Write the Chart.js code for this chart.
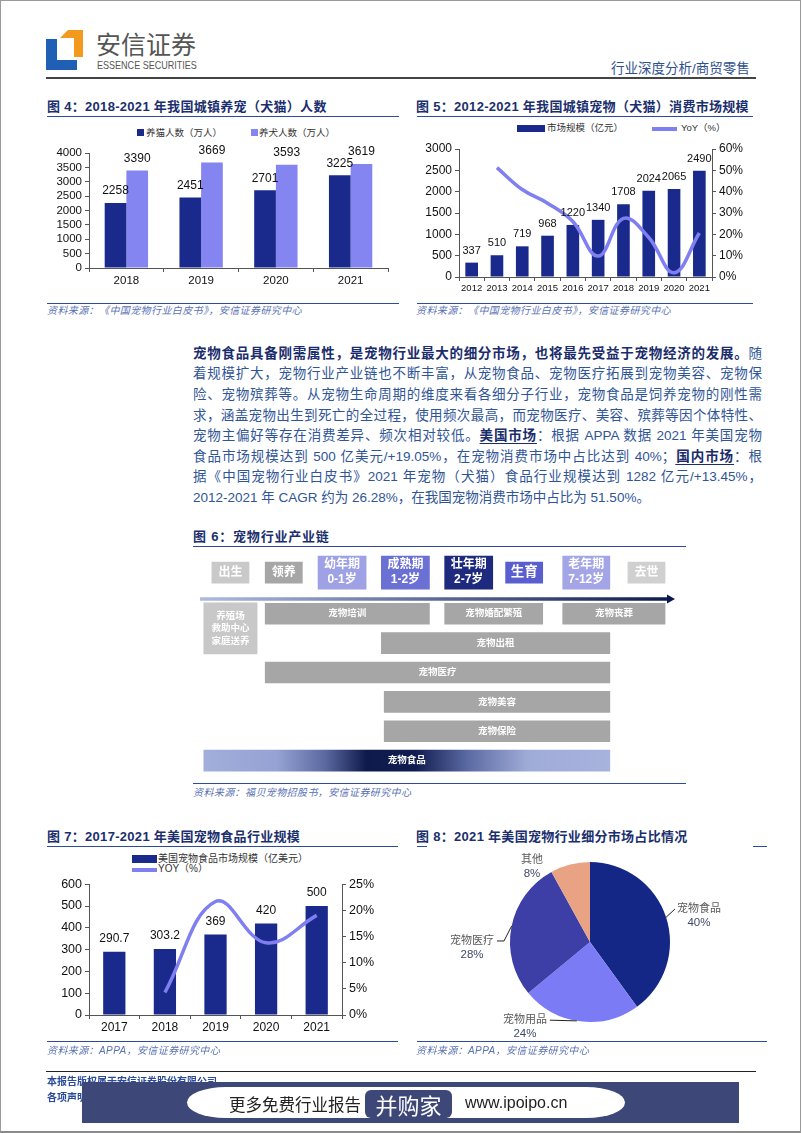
<!DOCTYPE html>
<html>
<head>
<meta charset="utf-8">
<script src="https://cdn.jsdelivr.net/npm/chart.js@4.4.1/dist/chart.umd.min.js"></script>
<style>
  body { margin: 0; width: 802px; height: 1133px; position: relative; background: #fff; overflow: hidden;
         font-family: "Liberation Sans", "Noto Sans CJK SC", sans-serif; }
  .abs { position: absolute; }
  .frame { left: 0; top: 0; width: 799px; height: 1130px; border: 1px solid #9a9a9a; border-bottom: 2px solid #8a8a8a; }
  .title { font-size: 13px; font-weight: bold; color: #1b2f6e; letter-spacing: 0.3px; white-space: nowrap; line-height: 16px; }
  .rule { height: 0; border-top: 1.5px solid #2d4a9b; }
  .src { font-size: 10px; font-style: italic; color: #5a72b5; letter-spacing: 0.4px; white-space: nowrap; line-height: 14px; }
  .leg { font-size: 9.5px; color: #333; white-space: nowrap; line-height: 12px; }
  .sw { position: absolute; }
  .para div { position: absolute; left: 193px; width: 569px; font-size: 13.5px; line-height: 20.6px; height: 20.6px;
              color: #2f5597; text-align: justify; text-align-last: justify; }
  .para b { color: #1a2c6b; }
  .para u { color: #1a2c6b; font-weight: bold; text-underline-offset: 3px; }
  canvas { position: absolute; }
</style>
</head>
<body>
<div class="abs frame"></div>

<!-- header -->
<svg class="abs" style="left:0;top:0" width="120" height="80">
  <polygon points="46,39 57,39 57,60 77,60 77,70 46,70" fill="#1f5fb4"/>
  <polygon points="60,38 68,30 83,30 83,57 74,57 74,38" fill="#f39a1e"/>
</svg>
<div class="abs" style="left:96px;top:28px;font-size:25px;color:#555;font-family:'Noto Sans CJK SC';line-height:30px;">安信证券</div>
<div class="abs" style="left:97px;top:59px;font-size:10.5px;color:#555;line-height:12px;transform:scaleX(0.86);transform-origin:left;white-space:nowrap;">ESSENCE SECURITIES</div>
<div class="abs" style="left:611px;top:61px;font-size:13.5px;color:#2f4f8f;line-height:16px;white-space:nowrap;">行业深度分析/商贸零售</div>
<div class="abs" style="left:46px;top:77px;width:710px;height:0;border-top:2px solid #444;"></div>

<!-- figure 4 -->
<div class="abs title" style="left:47px;top:99px;">图 4：2018-2021 年我国城镇养宠（犬猫）人数</div>
<div class="abs rule" style="left:47px;top:116px;width:352px;"></div>
<div class="sw" style="left:137px;top:129px;width:7px;height:7px;background:#1a2a8c;"></div>
<div class="abs leg" style="left:146px;top:127px;">养猫人数（万人）</div>
<div class="sw" style="left:251px;top:129px;width:7px;height:7px;background:#8585f2;"></div>
<div class="abs leg" style="left:259px;top:127px;">养犬人数（万人）</div>
<canvas id="c4" width="353" height="160" style="left:47px;top:135px;width:353px;height:160px;"></canvas>
<div class="abs rule" style="left:47px;top:303px;width:352px;"></div>
<div class="abs src" style="left:47px;top:304px;">资料来源：《中国宠物行业白皮书》，安信证券研究中心</div>

<!-- figure 5 -->
<div class="abs title" style="left:416px;top:99px;">图 5：2012-2021 年我国城镇宠物（犬猫）消费市场规模</div>
<div class="abs rule" style="left:417px;top:116px;width:336px;"></div>
<div class="sw" style="left:517px;top:125px;width:28px;height:7px;background:#1a2a8c;"></div>
<div class="abs leg" style="left:547px;top:122px;">市场规模（亿元）</div>
<div class="sw" style="left:652px;top:127px;width:25px;height:3.5px;background:#7f7ff2;"></div>
<div class="abs leg" style="left:681px;top:122px;">YoY（%）</div>
<canvas id="c5" width="336" height="157" style="left:416px;top:140px;width:336px;height:157px;"></canvas>
<div class="abs rule" style="left:417px;top:303px;width:336px;"></div>
<div class="abs src" style="left:416px;top:304px;">资料来源：《中国宠物行业白皮书》，安信证券研究中心</div>

<!-- paragraph -->
<div class="para">
  <div style="top:343.7px;"><b>宠物食品具备刚需属性，是宠物行业最大的细分市场，也将最先受益于宠物经济的发展。</b>随</div>
  <div style="top:364.3px;">着规模扩大，宠物行业产业链也不断丰富，从宠物食品、宠物医疗拓展到宠物美容、宠物保</div>
  <div style="top:384.9px;">险、宠物殡葬等。从宠物生命周期的维度来看各细分子行业，宠物食品是饲养宠物的刚性需</div>
  <div style="top:405.5px;">求，涵盖宠物出生到死亡的全过程，使用频次最高，而宠物医疗、美容、殡葬等因个体特性、</div>
  <div style="top:426.1px;">宠物主偏好等存在消费差异、频次相对较低。<u>美国市场</u>：根据 APPA 数据 2021 年美国宠物</div>
  <div style="top:446.7px;">食品市场规模达到 500 亿美元/+19.05%，在宠物消费市场中占比达到 40%；<u>国内市场</u>：根</div>
  <div style="top:467.3px;">据《中国宠物行业白皮书》2021 年宠物（犬猫）食品行业规模达到 1282 亿元/+13.45%，</div>
  <div style="top:487.9px;text-align:left;text-align-last:left;">2012-2021 年 CAGR 约为 26.28%，在我国宠物消费市场中占比为 51.50%。</div>
</div>

<!-- figure 6 -->
<div class="abs title" style="left:193px;top:529px;letter-spacing:0.8px;">图 6：宠物行业产业链</div>
<div class="abs rule" style="left:193px;top:546px;width:493px;"></div>
<canvas id="c6" width="476" height="226" style="left:200px;top:552px;width:476px;height:226px;"></canvas>
<div class="abs rule" style="left:193px;top:783px;width:493px;"></div>
<div class="abs src" style="left:193px;top:786px;">资料来源：福贝宠物招股书，安信证券研究中心</div>

<!-- figure 7 -->
<div class="abs title" style="left:47px;top:829px;">图 7：2017-2021 年美国宠物食品行业规模</div>
<div class="abs rule" style="left:47px;top:846px;width:351px;"></div>
<div class="sw" style="left:132px;top:855px;width:25px;height:8px;background:#1a2a8c;"></div>
<div class="abs leg" style="left:158px;top:853px;font-size:10px;">美国宠物食品市场规模（亿美元）</div>
<div class="sw" style="left:132px;top:868px;width:25px;height:3.5px;background:#7f7ff2;"></div>
<div class="abs leg" style="left:158px;top:863px;font-size:10px;">YOY（%）</div>
<canvas id="c7" width="353" height="167" style="left:47px;top:875px;width:353px;height:167px;"></canvas>
<div class="abs rule" style="left:47px;top:1041px;width:351px;"></div>
<div class="abs src" style="left:47px;top:1044px;">资料来源：APPA，安信证券研究中心</div>

<!-- figure 8 -->
<div class="abs title" style="left:416px;top:829px;">图 8：2021 年美国宠物行业细分市场占比情况</div>
<div class="abs rule" style="left:417px;top:846px;width:10px;"></div>
<div class="abs rule" style="left:753px;top:846px;width:14px;"></div>
<canvas id="c8" width="354" height="190" style="left:416px;top:850px;width:354px;height:190px;"></canvas>
<div class="abs rule" style="left:417px;top:1041px;width:350px;"></div>
<div class="abs src" style="left:416px;top:1044px;">资料来源：APPA，安信证券研究中心</div>

<!-- footer -->
<div class="abs" style="left:46px;top:1071px;width:710px;height:0;border-top:1.5px solid #222;"></div>
<div class="abs" style="left:47px;top:1076px;font-size:10px;font-weight:bold;color:#2a4a9a;line-height:12px;">本报告版权属于安信证券股份有限公司。</div>
<div class="abs" style="left:47px;top:1092px;font-size:10px;font-weight:bold;color:#2a4a9a;line-height:12px;">各项声明请参见报告尾页。</div>
<div class="abs" style="left:82px;top:1082px;width:657px;height:41px;background:#3e4878;"></div>
<div class="abs" style="left:187px;top:1087px;width:438px;height:31px;background:#fff;border-radius:40px / 16px;"></div>
<div class="abs" style="left:229px;top:1093px;font-size:16.5px;color:#222;line-height:22px;font-family:'Noto Sans CJK SC';white-space:nowrap;">更多免费行业报告</div>
<div class="abs" style="left:365px;top:1090px;width:87px;height:28px;background:#3e4878;border-radius:6px;color:#fff;font-size:22px;line-height:28px;text-align:center;font-family:'Noto Sans CJK SC';">并购家</div>
<div class="abs" style="left:465px;top:1092px;font-size:16px;color:#222;line-height:22px;white-space:nowrap;">www.ipoipo.cn</div>

<script>
// ---------- data ----------
const years4 = ['2018', '2019', '2020', '2021'];
const cats4 = [2258, 2451, 2701, 3225];
const dogs4 = [3390, 3669, 3593, 3619];

const years5 = ['2012', '2013', '2014', '2015', '2016', '2017', '2018', '2019', '2020', '2021'];
const market5 = [337, 510, 719, 968, 1220, 1340, 1708, 2024, 2065, 2490];
const yoy5 = [null, 51.3, 41.0, 34.6, 26.0, 9.8, 27.5, 18.5, 2.0, 20.6];

const years7 = ['2017', '2018', '2019', '2020', '2021'];
const food7 = [290.7, 303.2, 369, 420, 500];
const yoy7 = [null, 4.3, 21.7, 13.8, 19.05];

const segs8 = ['宠物食品', '宠物用品', '宠物医疗', '其他'];
const share8 = [40, 24, 28, 8];

// figure 6: spans on a 0-100 lifecycle scale, lanes top to bottom
const stageNames = ['出生', '领养', '幼年期\n0-1岁', '成熟期\n1-2岁', '壮年期\n2-7岁', '生育', '老年期\n7-12岁', '去世'];
const stageSpans = [[2.5, 10.3], [13.7, 21.5], [24.8, 34.9], [38.1, 48.2], [51.4, 61.5], [64.2, 72.0], [76.2, 86.1], [89.9, 97.7]];
const stageLanes = [0, 0, 0, 0, 0, 0, 0, 0];
const serviceNames = ['养殖场\n救助中心\n家庭送养', '宠物培训', '宠物婚配繁殖', '宠物丧葬', '宠物出租', '宠物医疗', '宠物美容', '宠物保险', '宠物食品'];
const serviceSpans = [[0.8, 12], [13.7, 48.2], [51.4, 72.0], [76.2, 97.7], [38.1, 86.1], [13.7, 86.1], [38.7, 86.1], [38.7, 86.1], [0.8, 86.1]];
const serviceLanes = [1.9, 1.4, 1.4, 1.4, 2.4, 3.4, 4.4, 5.4, 6.4];

// ---------- styles ----------
const FONT = '"Liberation Sans", "Noto Sans CJK SC", sans-serif';
const NAVY = '#1a2a8c', LAV = '#8585f2', LINE = '#7f7ff2';
Chart.defaults.font.family = FONT;
Chart.defaults.color = '#111';
Chart.defaults.animation = false;
Chart.defaults.plugins.legend.display = false;
Chart.defaults.plugins.tooltip.enabled = false;

const barValues = {
  id: 'barValues',
  afterDatasetsDraw(chart, args, opts) {
    const ctx = chart.ctx;
    ctx.save();
    ctx.font = (opts.size || 12) + 'px ' + FONT;
    ctx.fillStyle = '#111';
    ctx.textAlign = 'center';
    ctx.textBaseline = 'middle';
    chart.data.datasets.forEach((ds, i) => {
      if (ds.type === 'line') return;
      chart.getDatasetMeta(i).data.forEach((bar, j) => {
        if (ds.data[j] == null) return;
        ctx.fillText(String(ds.data[j]), bar.x, bar.y - (opts.offset || 12));
      });
    });
    ctx.restore();
  }
};

function axis(size, extra, tickExtra) {
  return Object.assign({
    border: { display: true, color: '#555', width: 1 },
    grid: { display: true, drawOnChartArea: false, drawTicks: true, tickLength: 4, color: '#555' },
    ticks: Object.assign({ color: '#111', font: { size: size, lineHeight: 1 }, padding: 3,
      autoSkip: false, maxRotation: 0, minRotation: 0, callback(v) { return this.getLabelForValue ? undefined : v; } },
      tickExtra || {})
  }, extra);
}
const plain = v => String(v);
const pct = v => v + '%';

// ---------- figure 4 ----------
new Chart(document.getElementById('c4'), {
  type: 'bar',
  data: {
    labels: years4,
    datasets: [
      { label: '养猫人数（万人）', data: cats4, backgroundColor: NAVY, categoryPercentage: 0.58, barPercentage: 1 },
      { label: '养犬人数（万人）', data: dogs4, backgroundColor: LAV, categoryPercentage: 0.58, barPercentage: 1 }
    ]
  },
  options: {
    responsive: false,
    layout: { padding: { top: 18, right: 12 } },
    scales: {
      x: axis(11.5, { afterFit(s) { s.height = 27; } }, { callback(v) { return this.getLabelForValue(v); } }),
      y: axis(11.5, { min: 0, max: 4000, afterFit(s) { s.width = 42; } }, { stepSize: 500, callback: plain })
    },
    plugins: { barValues: { size: 12, offset: 12 } }
  },
  plugins: [barValues]
});

// ---------- figure 5 ----------
new Chart(document.getElementById('c5'), {
  type: 'bar',
  data: {
    labels: years5,
    datasets: [
      { type: 'line', label: 'YoY（%）', data: yoy5, yAxisID: 'y1', borderColor: LINE, borderWidth: 3.5,
        pointRadius: 0, tension: 0.4, order: 0 },
      { label: '市场规模（亿元）', data: market5, backgroundColor: NAVY, barPercentage: 0.5, categoryPercentage: 1, order: 1 }
    ]
  },
  options: {
    responsive: false,
    layout: { padding: { top: 9 } },
    scales: {
      x: axis(9.5, { afterFit(s) { s.height = 20; } }, { callback(v) { return this.getLabelForValue(v); } }),
      y: axis(12, { min: 0, max: 3000, afterFit(s) { s.width = 43; } }, { stepSize: 500, callback: plain }),
      y1: axis(12, { position: 'right', min: 0, max: 60, afterFit(s) { s.width = 40; } }, { stepSize: 10, callback: pct })
    },
    plugins: { barValues: { size: 11, offset: 12 } }
  },
  plugins: [barValues]
});

// ---------- figure 7 ----------
new Chart(document.getElementById('c7'), {
  type: 'bar',
  data: {
    labels: years7,
    datasets: [
      { type: 'line', label: 'YOY（%）', data: yoy7, yAxisID: 'y1', borderColor: LINE, borderWidth: 3.5,
        pointRadius: 0, tension: 0.4, order: 0 },
      { label: '美国宠物食品市场规模（亿美元）', data: food7, backgroundColor: NAVY, barPercentage: 0.44, categoryPercentage: 1, order: 1 }
    ]
  },
  options: {
    responsive: false,
    layout: { padding: { top: 6 } },
    scales: {
      x: axis(12, { afterFit(s) { s.height = 27; } }, { callback(v) { return this.getLabelForValue(v); } }),
      y: axis(12.5, { min: 0, max: 600, afterFit(s) { s.width = 42; } }, { stepSize: 100, callback: plain }),
      y1: axis(12.5, { position: 'right', min: 0, max: 25, afterFit(s) { s.width = 58; } }, { stepSize: 5, callback: pct })
    },
    plugins: { barValues: { size: 12, offset: 13 } }
  },
  plugins: [barValues]
});

// ---------- figure 8 ----------
const pieLabels = {
  id: 'pieLabels',
  afterDatasetsDraw(chart, args, opts) {
    const ctx = chart.ctx;
    const arcs = chart.getDatasetMeta(0).data;
    ctx.save();
    ctx.textAlign = 'center';
    ctx.textBaseline = 'middle';
    arcs.forEach((arc, i) => {
      const p = opts.place[i];
      const r = arc.outerRadius;
      const a = p.angle * Math.PI / 180;
      const lx = arc.x + Math.cos(a) * r * p.dist;
      const ly = arc.y + Math.sin(a) * r * p.dist;
      const name = chart.data.labels[i];
      ctx.font = '11px ' + FONT;
      const w = ctx.measureText(name).width;
      ctx.fillStyle = '#595959';
      ctx.fillText(name, lx, ly - 7);
      ctx.font = '11.5px ' + FONT;
      ctx.fillStyle = '#404a68';
      ctx.fillText(chart.data.datasets[0].data[i] + '%', lx, ly + 7);
      if (p.edge == null) return;
      const e = p.edge * Math.PI / 180;
      const sx = arc.x + Math.cos(e) * r, sy = arc.y + Math.sin(e) * r;
      const ex = p.side === 'left' ? lx - w / 2 - 2 : lx + w / 2 + 3;
      ctx.strokeStyle = '#222';
      ctx.lineWidth = 1;
      ctx.beginPath();
      ctx.moveTo(sx, sy);
      if (p.elbow) ctx.lineTo(ex + p.elbow, ly - 7);
      ctx.lineTo(ex, ly - 7);
      ctx.stroke();
    });
    ctx.restore();
  }
};

new Chart(document.getElementById('c8'), {
  type: 'pie',
  data: {
    labels: segs8,
    datasets: [{ data: share8, backgroundColor: ['#142786', '#7b7bf6', '#3d3fa6', '#e9a283'], borderWidth: 0 }]
  },
  options: {
    responsive: false,
    radius: 80,
    layout: { padding: { right: 6, bottom: 6 } },
    plugins: {
      pieLabels: {
        place: [
          { angle: -13.4, dist: 1.40, edge: -18, side: 'left' },
          { angle: 127.4, dist: 1.34, edge: 99.5, side: 'right' },
          { angle: 177.1, dist: 1.477, edge: 191.5, side: 'right', elbow: 7 },
          { angle: 232.3, dist: 1.185, edge: null }
        ]
      }
    }
  },
  plugins: [pieLabels]
});

// ---------- figure 6 ----------
const stageTall = [false, false, true, true, true, false, true, false];
const stageColors = ['#c9c9c9', '#a6a6a6', '#9ea1e3', '#6b70d4', '#1e2a7e', '#5a5fd0', '#a3a5e6', '#d0d0d0'];
const GRAY = '#a6a6a6';

function laneSet(spans, lanes, names, pick) {
  const idx = spans.map((s, i) => i).filter(pick);
  return {
    data: idx.map(i => ({ x: spans[i], y: lanes[i] })),
    names: idx.map(i => names[i]),
    src: idx
  };
}
function serviceFill(ctx) {
  const i = ctx.dataset.src[ctx.dataIndex];
  if (i === 0) return '#c8c8c8';
  if (serviceNames[i] !== '宠物食品') return GRAY;
  const chart = ctx.chart, xs = chart.scales.x;
  if (!xs || !chart.chartArea) return '#3a4a85';
  const x0 = xs.getPixelForValue(serviceSpans[i][0]), x1 = xs.getPixelForValue(serviceSpans[i][1]);
  const g = chart.ctx.createLinearGradient(x0, 0, x1, 0);
  g.addColorStop(0, '#a2aedb');
  g.addColorStop(0.18, '#95a2d3');
  g.addColorStop(0.3, '#5a68a0');
  g.addColorStop(0.4, '#0f1a4c');
  g.addColorStop(0.52, '#101c50');
  g.addColorStop(0.65, '#5b6aa3');
  g.addColorStop(0.8, '#a0acd8');
  g.addColorStop(1, '#a7b3dd');
  return g;
}
function stageFill(ctx) {
  return stageColors[ctx.dataset.src[ctx.dataIndex]];
}

const lifeArrow = {
  id: 'lifeArrow',
  beforeDatasetsDraw(chart, args, opts) {
    const { ctx, scales: { x, y } } = chart;
    const yy = y.getPixelForValue(opts.at);
    const x0 = x.getPixelForValue(0), x1 = x.getPixelForValue(100) - 1;
    const g = ctx.createLinearGradient(x0, 0, x1, 0);
    g.addColorStop(0, '#aebbe0');
    g.addColorStop(1, '#0b1850');
    ctx.save();
    ctx.strokeStyle = g;
    ctx.lineWidth = 3.5;
    ctx.beginPath();
    ctx.moveTo(x0, yy);
    ctx.lineTo(x1 - 6, yy);
    ctx.stroke();
    ctx.fillStyle = '#0b1850';
    ctx.beginPath();
    ctx.moveTo(x1, yy);
    ctx.lineTo(x1 - 8, yy - 4.5);
    ctx.lineTo(x1 - 8, yy + 4.5);
    ctx.closePath();
    ctx.fill();
    ctx.restore();
  }
};

const barTexts = {
  id: 'barTexts',
  afterDatasetsDraw(chart) {
    const ctx = chart.ctx;
    ctx.save();
    ctx.fillStyle = '#fff';
    ctx.textAlign = 'center';
    ctx.textBaseline = 'middle';
    chart.data.datasets.forEach((ds, i) => {
      chart.getDatasetMeta(i).data.forEach((el, j) => {
        const name = ds.names[j];
        const lines = name.split('\n');
        const size = name === '生育' ? 13.5 : ds.fontSize;
        ctx.font = 'bold ' + size + 'px ' + FONT;
        const c = el.getCenterPoint();
        lines.forEach((t, k) => {
          ctx.fillText(t, c.x, c.y + (k - (lines.length - 1) / 2) * ds.lineStep);
        });
      });
    });
    ctx.restore();
  }
};

const setShort = laneSet(stageSpans, stageLanes, stageNames, i => !stageTall[i]);
const setTall = laneSet(stageSpans, stageLanes, stageNames, i => stageTall[i]);
const setFarm = laneSet(serviceSpans, serviceLanes, serviceNames, i => i === 0);
const setServ = laneSet(serviceSpans, serviceLanes, serviceNames, i => i > 0);

new Chart(document.getElementById('c6'), {
  type: 'bar',
  data: {
    datasets: [
      Object.assign(setShort, { fontSize: 12, lineStep: 15, backgroundColor: stageFill, barThickness: 21, grouped: false }),
      Object.assign(setTall, { fontSize: 12, lineStep: 15, backgroundColor: stageFill, barThickness: 33, grouped: false }),
      Object.assign(setFarm, { fontSize: 9.5, lineStep: 12.5, backgroundColor: serviceFill, barThickness: 51, grouped: false }),
      Object.assign(setServ, { fontSize: 9.5, lineStep: 12, backgroundColor: serviceFill, barThickness: 21, grouped: false })
    ]
  },
  options: {
    responsive: false,
    indexAxis: 'y',
    layout: { padding: 0 },
    scales: {
      x: { type: 'linear', min: 0, max: 100, display: false },
      y: { type: 'linear', min: -0.7, max: 6.99, reverse: true, offset: false, display: false }
    },
    plugins: { lifeArrow: { at: 0.9 } }
  },
  plugins: [lifeArrow, barTexts]
});
</script>
</body>
</html>
